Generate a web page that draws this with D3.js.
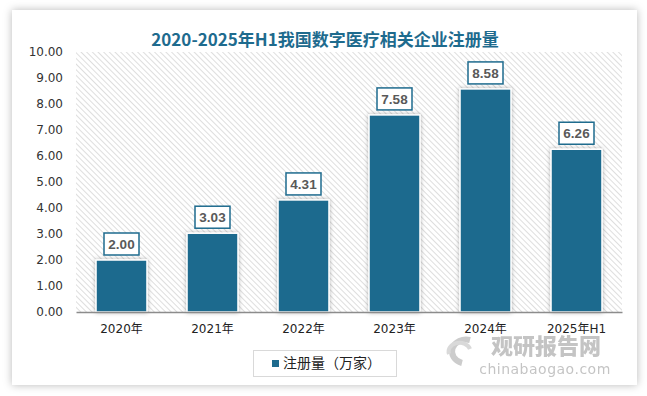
<!DOCTYPE html>
<html><head><meta charset="utf-8">
<script src="https://cdn.jsdelivr.net/npm/d3@7/dist/d3.min.js"></script>
<style>html,body{margin:0;padding:0;background:#fff;}svg{display:block;}</style>
</head><body>
<svg id="chart" width="647" height="396"></svg>
<script>
const categories = ["2020年","2021年","2022年","2023年","2024年","2025年H1"];
const values = [2.00, 3.03, 4.31, 7.58, 8.58, 6.26];
const yTicks = [0,1,2,3,4,5,6,7,8,9,10];
const title = "2020-2025年H1我国数字医疗相关企业注册量";
const seriesName = "注册量（万家）";

const svg = d3.select("#chart");
const teal = "#1e6b8e";
const defs = svg.append("defs");

const sh = defs.append("filter").attr("id","panelShadow").attr("x","-5%").attr("y","-5%").attr("width","110%").attr("height","110%");
sh.append("feDropShadow").attr("dx",0).attr("dy",0).attr("stdDeviation",4).attr("flood-color","#000").attr("flood-opacity",0.28);
const bs = defs.append("filter").attr("id","barShadow").attr("x","-30%").attr("y","-10%").attr("width","160%").attr("height","120%");
bs.append("feDropShadow").attr("dx",0).attr("dy",0).attr("stdDeviation",2).attr("flood-color","#000").attr("flood-opacity",0.3);

const pat = defs.append("pattern").attr("id","hatch").attr("patternUnits","userSpaceOnUse")
  .attr("width",4).attr("height",4).attr("patternTransform","rotate(-45)");
pat.append("rect").attr("width",4).attr("height",4).attr("fill","#fff");
pat.append("line").attr("x1",0).attr("y1",0).attr("x2",0).attr("y2",4).attr("stroke","#d0d0d0").attr("stroke-width",1.4);

// panel
svg.append("rect").attr("x",12).attr("y",10).attr("width",625).attr("height",375)
  .attr("fill","#fff").attr("filter","url(#panelShadow)");

const m = {left:76, right:622, top:52, bottom:312};
const x = d3.scaleBand().domain(categories).range([m.left,m.right]).paddingInner(0.44).paddingOuter(0.22);
const y = d3.scaleLinear().domain([0,10]).range([m.bottom,m.top]);

svg.append("rect").attr("x",m.left).attr("y",m.top).attr("width",m.right-m.left).attr("height",m.bottom-m.top)
  .attr("fill","url(#hatch)");

// title
svg.append("text").attr("x",325).attr("y",41).attr("text-anchor","middle").attr("dominant-baseline","middle")
  .attr("font-family","'Noto Sans CJK SC', sans-serif").attr("font-weight","bold").attr("font-size",17)
  .attr("fill",teal).text(title);

// y axis
const yAxis = d3.axisLeft(y).tickValues(yTicks).tickFormat(d3.format(".2f")).tickSize(0).tickPadding(13);
const gy = svg.append("g").attr("transform",`translate(${m.left},0)`).call(yAxis);
gy.select(".domain").remove();
gy.selectAll("text").attr("font-family","'DejaVu Sans', sans-serif").attr("font-size",12).attr("fill","#333");

// bars
svg.append("g").selectAll("rect").data(values).join("rect")
  .attr("x",(d,i)=>x(categories[i])).attr("y",d=>y(d))
  .attr("width",x.bandwidth()).attr("height",d=>y(0)-y(d))
  .attr("fill",teal).attr("stroke","#fff").attr("stroke-width",1.5)
  .attr("filter","url(#barShadow)");

// x axis
const xAxis = d3.axisBottom(x).tickSize(0).tickPadding(12);
const gx = svg.append("g").attr("transform",`translate(0,${m.bottom})`).call(xAxis);
gx.select(".domain").attr("stroke","#8c8c8c").attr("stroke-width",1.5);
gx.selectAll("text").attr("font-family","'DejaVu Sans','Noto Sans CJK SC', sans-serif").attr("font-size",12).attr("fill","#222");

// data labels
const lg = svg.append("g").selectAll("g").data(values).join("g")
  .attr("transform",(d,i)=>`translate(${x(categories[i])+x.bandwidth()/2},${y(d)-16})`);
lg.append("rect").attr("x",-17.5).attr("y",-11).attr("width",35).attr("height",22)
  .attr("fill","#fff").attr("stroke",teal).attr("stroke-width",1.5);
lg.append("text").attr("text-anchor","middle").attr("dominant-baseline","central").attr("y",0.5)
  .attr("font-family","'Liberation Sans', Arial, sans-serif").attr("font-weight","bold").attr("font-size",13.5)
  .attr("fill","#595959").text(d=>d3.format(".2f")(d));

// legend
svg.append("rect").attr("x",253.5).attr("y",350.5).attr("width",143).attr("height",26)
  .attr("fill","#fff").attr("stroke","#d9d9d9");
svg.append("rect").attr("x",272).attr("y",360).attr("width",7).attr("height",7).attr("fill",teal);
svg.append("text").attr("x",283).attr("y",364).attr("dominant-baseline","middle")
  .attr("font-family","'Noto Sans CJK SC', sans-serif").attr("font-size",14).attr("fill","#222").text(seriesName);

// watermark
const wm = svg.append("g").attr("opacity",0.5);
wm.append("path").attr("d","M470,340 A14,12 0 1 0 462,363").attr("fill","none").attr("stroke","#9a9a9a").attr("stroke-width",6);
wm.append("path").attr("d","M449,354 A10,8 0 1 1 470,349").attr("fill","none").attr("stroke","#b5b5b5").attr("stroke-width",4);
wm.append("text").attr("x",546).attr("y",354).attr("text-anchor","middle")
  .attr("font-family","'Noto Sans CJK SC', sans-serif").attr("font-weight","900").attr("font-size",22)
  .attr("fill","#8a8a8a").text("观研报告网");
wm.append("text").attr("x",545).attr("y",374).attr("text-anchor","middle")
  .attr("font-family","'DejaVu Sans', sans-serif").attr("font-size",14).attr("letter-spacing",0.5)
  .attr("fill","#8a8a8a").text("chinabaogao.com");
</script>
</body></html>
